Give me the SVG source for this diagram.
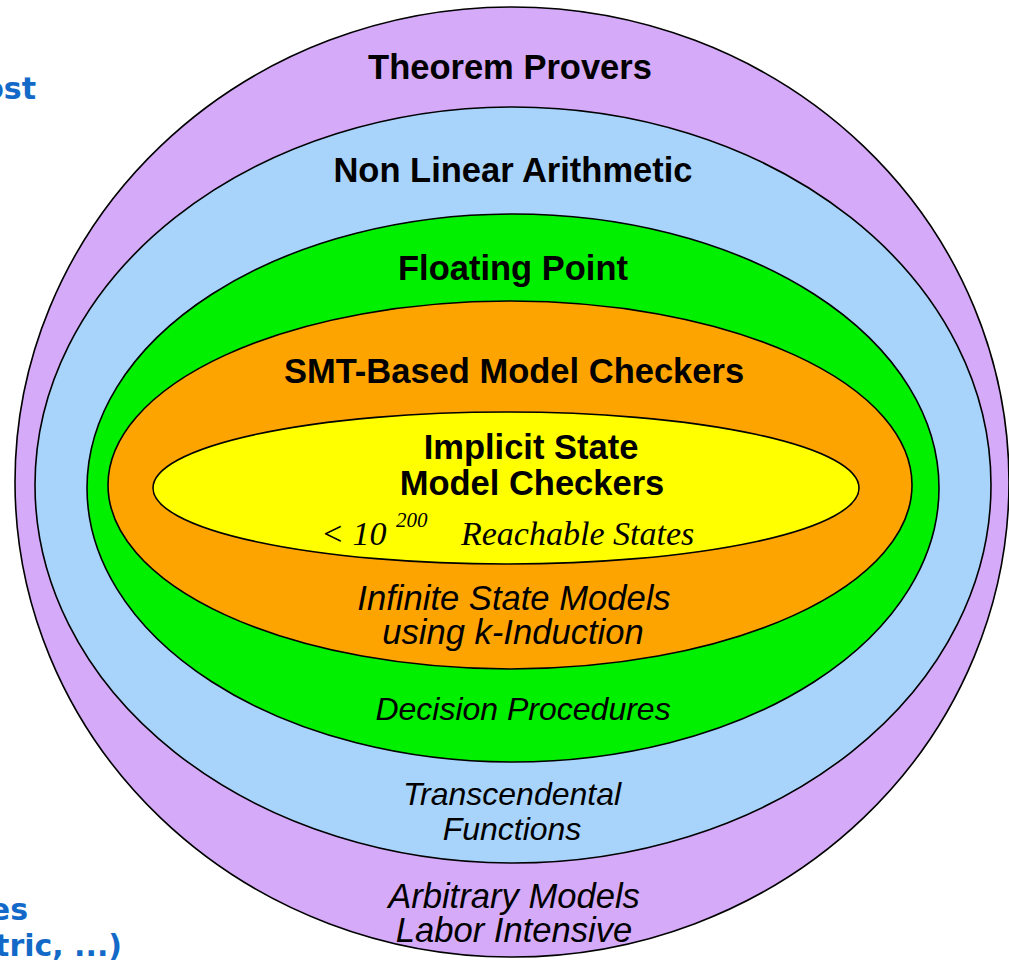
<svg xmlns="http://www.w3.org/2000/svg" width="1009" height="960" viewBox="0 0 1009 960">
<style>
.ring{stroke:#000;stroke-width:1.6}
.b{font-family:"Liberation Sans",Arial,sans-serif;font-weight:bold;font-size:34.5px;fill:#000;text-anchor:middle}
.i{font-family:"Liberation Sans",Arial,sans-serif;font-style:italic;font-size:34.6px;fill:#000;text-anchor:middle}
.i2{font-family:"Liberation Sans",Arial,sans-serif;font-style:italic;font-size:32px;fill:#000;text-anchor:middle}
.s{font-family:"Liberation Serif","Times New Roman",serif;font-style:italic;font-size:34px;fill:#000}
.sup{font-family:"Liberation Serif","Times New Roman",serif;font-style:italic;font-size:21px;fill:#000}
.side{font-family:"DejaVu Sans",Verdana,sans-serif;font-weight:bold;font-size:30px;fill:#1369c8;text-anchor:end}
</style>
<rect width="1009" height="960" fill="#fff"/>
<g id="side-text">
<text class="side" x="36" y="99">ost</text>
<text class="side" x="28" y="920">es</text>
<text class="side" x="122" y="956">tric, ...)</text>
</g>
<g id="theorem-provers">
<ellipse class="ring" cx="512" cy="482" rx="497" ry="475" fill="#d5aaf9"/>
<text class="b" x="510" y="79">Theorem Provers</text>
<text class="i" x="514" y="908">Arbitrary Models</text>
<text class="i" x="514" y="942">Labor Intensive</text>
</g>
<g id="non-linear-arithmetic">
<ellipse class="ring" cx="513" cy="485" rx="478" ry="378" fill="#a8d4fc"/>
<text class="b" x="513" y="182">Non Linear Arithmetic</text>
<text class="i2" x="512" y="805">Transcendental</text>
<text class="i2" x="512" y="840">Functions</text>
</g>
<g id="floating-point">
<ellipse class="ring" cx="513" cy="488" rx="426" ry="274" fill="#00f000"/>
<text class="b" x="513" y="280">Floating Point</text>
<text class="i2" x="523" y="720">Decision Procedures</text>
</g>
<g id="smt-based-model-checkers">
<ellipse class="ring" cx="510" cy="485" rx="402" ry="184" fill="#fea400"/>
<text class="b" x="514" y="383">SMT-Based Model Checkers</text>
<text class="i" x="514" y="610">Infinite State Models</text>
<text class="i" x="513" y="644">using k-Induction</text>
</g>
<g id="implicit-state-model-checkers">
<ellipse class="ring" cx="506" cy="488" rx="353" ry="76" fill="#ffff00"/>
<text class="b" x="531" y="459">Implicit State</text>
<text class="b" x="532" y="495">Model Checkers</text>
<text class="s" x="321" y="545">&lt; 10</text>
<text class="sup" x="396" y="527">200</text>
<text class="s" x="461" y="545">Reachable States</text>
</g>
<g id="connectors"/>
</svg>
